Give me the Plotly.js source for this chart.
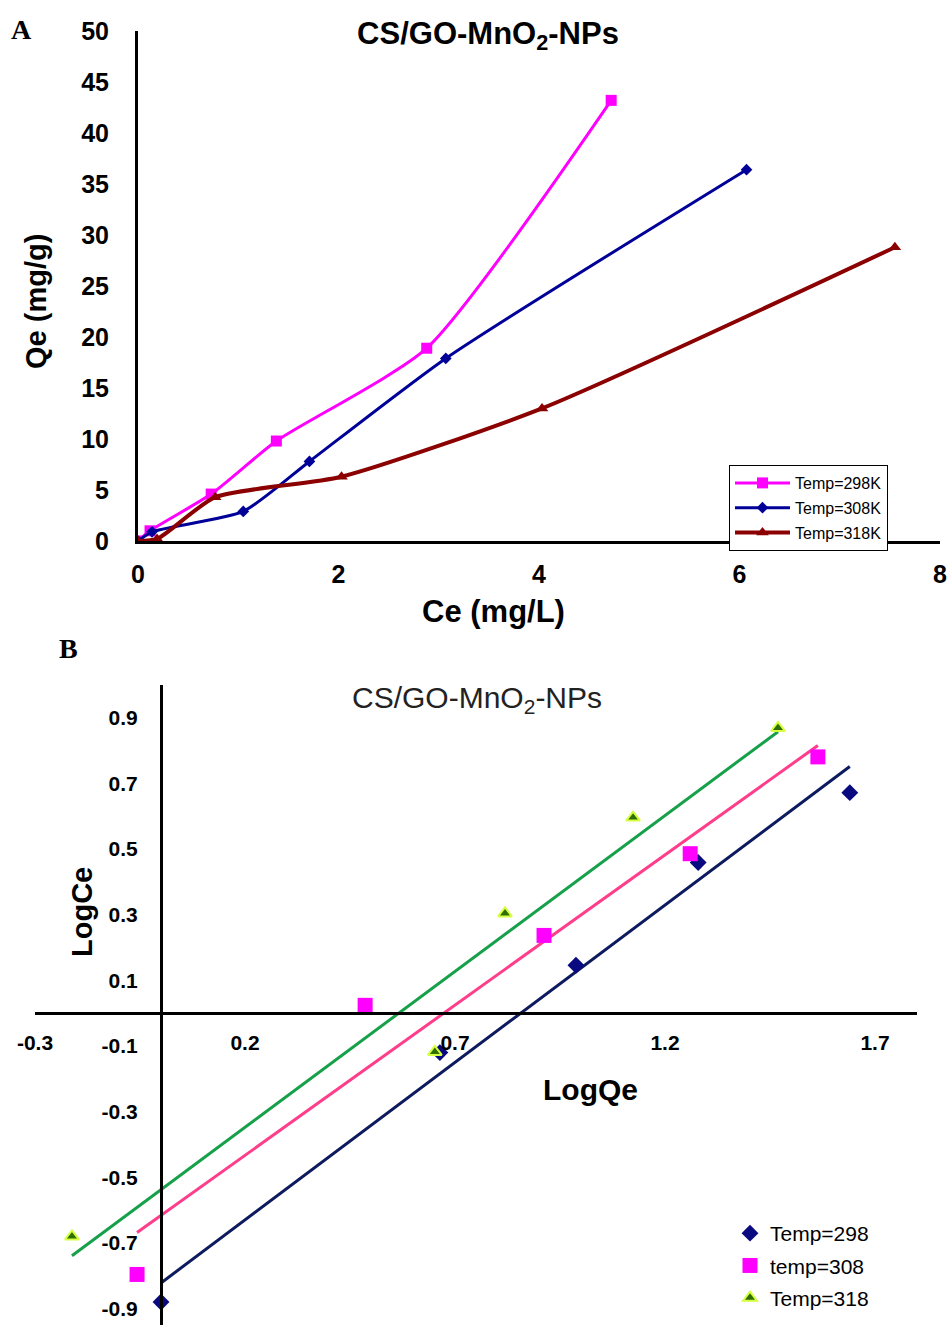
<!DOCTYPE html>
<html>
<head>
<meta charset="utf-8">
<script src="https://cdn.plot.ly/plotly-3.0.1.min.js"></script>
<style>
  html, body { margin: 0; padding: 0; background: #fff; }
  #chart { width: 948px; height: 1340px; }
</style>
</head>
<body>
<div id="chart"></div>
<script>
// ---- Panel A: adsorption isotherms, Qe vs Ce ----
const ceA298 = [0, 0.12, 0.73, 1.38, 2.88, 4.72];
const qeA298 = [0, 1.0, 4.6, 9.8, 18.9, 43.2];
const ceA308 = [0, 0.14, 1.05, 1.71, 3.07, 6.07];
const qeA308 = [0, 0.9, 2.9, 7.8, 17.9, 36.4];
const ceA318 = [0, 0.19, 0.77, 2.03, 4.03, 7.55];
const qeA318 = [0, 0.2, 4.3, 6.3, 13.0, 28.8];
const namesA = ['Temp=298K', 'Temp=308K', 'Temp=318K'];

// ---- Panel B: linearised plot, LogCe vs LogQe ----
const logQe298 = [0, 0.664, 0.988, 1.279, 1.64];
const logCe298 = [-0.88, -0.12, 0.146, 0.459, 0.672];
const logQe308 = [-0.057, 0.486, 0.912, 1.26, 1.564];
const logCe308 = [-0.796, 0.024, 0.237, 0.486, 0.781];
const logQe318 = [-0.212, 0.652, 0.819, 1.124, 1.469];
const logCe318 = [-0.68, -0.118, 0.304, 0.596, 0.869];
const namesB = ['Temp=298', 'temp=308', 'Temp=318'];

// tick labels of panel B (plain hyphen as minus sign)
const xTickValsB = [-0.3, 0.2, 0.7, 1.2, 1.7];
const xTickTextB = ['-0.3', '0.2', '0.7', '1.2', '1.7'];
const yTickValsB = [-0.9, -0.7, -0.5, -0.3, -0.1, 0.1, 0.3, 0.5, 0.7, 0.9];
const yTickTextB = ['-0.9', '-0.7', '-0.5', '-0.3', '-0.1', '0.1', '0.3', '0.5', '0.7', '0.9'];

const W = 948, H = 1340;
const px = x => x / W;
const py = y => 1 - y / H;

const SANS = 'Liberation Sans, Arial, Helvetica, sans-serif';
const SERIF = 'Liberation Serif, Times New Roman, serif';

// least-squares fit, drawn across the data's x extent
function fitLine(xs, ys) {
  const n = xs.length;
  const mx = xs.reduce((a, b) => a + b, 0) / n;
  const my = ys.reduce((a, b) => a + b, 0) / n;
  let sxx = 0, sxy = 0;
  for (let i = 0; i < n; i++) {
    sxx += (xs[i] - mx) * (xs[i] - mx);
    sxy += (xs[i] - mx) * (ys[i] - my);
  }
  const m = sxy / sxx, b = my - m * mx;
  const x0 = Math.min(...xs), x1 = Math.max(...xs);
  return { x: [x0, x1], y: [m * x0 + b, m * x1 + b] };
}

// panel geometry
const xdomA = [px(138), px(940)], ydomA = [py(541), py(31)];
const xrA = [0, 8], yrA = [0, 50];
const xdomB = [px(35), px(917)], ydomB = [py(1325), py(685)];
const xrB = [-0.3, 1.8], yrB = [-0.95, 1.0];
const yAxisPosB = xdomB[0] + (0 - xrB[0]) / (xrB[1] - xrB[0]) * (xdomB[1] - xdomB[0]);
const xAxisPosB = ydomB[0] + (0 - yrB[0]) / (yrB[1] - yrB[0]) * (ydomB[1] - ydomB[0]);

const colA = ['#ff00ff', '#000099', '#8b0000'];
const traces = [];

const seriesA = [[ceA298, qeA298], [ceA308, qeA308], [ceA318, qeA318]];
const symA = ['square', 'diamond', 'triangle-up'];
const sizeA = [11, 9, 11];
const widthA = [3, 3, 4];
seriesA.forEach((s, i) => {
  traces.push({
    type: 'scatter', mode: 'lines+markers',
    x: s[0], y: s[1], xaxis: 'x', yaxis: 'y',
    name: namesA[i], legend: 'legend', legendgroup: 'a' + i,
    line: { color: colA[i], width: widthA[i], shape: 'spline', smoothing: 0.6 },
    marker: { symbol: symA[i], size: sizeA[i], color: colA[i] }
  });
});

const seriesB = [[logQe298, logCe298], [logQe308, logCe308], [logQe318, logCe318]];
const lineColB = ['#0d1b5e', '#ff3d8b', '#17a04a'];
seriesB.forEach((s, i) => {
  const f = fitLine(s[0], s[1]);
  traces.push({
    type: 'scatter', mode: 'lines', x: f.x, y: f.y,
    xaxis: 'x2', yaxis: 'y2', showlegend: false, hoverinfo: 'skip',
    line: { color: lineColB[i], width: 3 }
  });
});
const markB = [
  { symbol: 'diamond', size: 13, color: '#0a0a80' },
  { symbol: 'square', size: 15, color: '#ff00ff' },
  { symbol: 'triangle-up', size: 12, color: '#2f6e00', line: { color: '#d6ff40', width: 2 } }
];
seriesB.forEach((s, i) => {
  traces.push({
    type: 'scatter', mode: 'markers', x: s[0], y: s[1],
    xaxis: 'x2', yaxis: 'y2', name: namesB[i], legend: 'legend2', legendgroup: 'b' + i,
    marker: markB[i]
  });
});

const axisBase = {
  showgrid: false, zeroline: false, showline: true,
  linecolor: '#000', linewidth: 3, ticks: '',
  color: '#000'
};

const layout = {
  width: W, height: H,
  margin: { l: 0, r: 0, t: 0, b: 0 },
  paper_bgcolor: '#fff', plot_bgcolor: 'rgba(0,0,0,0)',
  font: { family: SANS, color: '#000' },
  title: {
    text: 'CS/GO-MnO<sub>2</sub>-NPs',
    font: { family: SANS, size: 31, weight: 'bold', color: '#000' },
    x: px(488), y: py(33), xref: 'paper', yref: 'paper',
    xanchor: 'center', yanchor: 'middle'
  },
  xaxis: Object.assign({}, axisBase, {
    domain: xdomA, range: xrA, dtick: 2, anchor: 'y',
    tickfont: { family: SANS, size: 25, weight: 'bold' }, ticklabelstandoff: 9
  }),
  yaxis: Object.assign({}, axisBase, {
    domain: ydomA, range: yrA, dtick: 5, anchor: 'x',
    tickfont: { family: SANS, size: 25, weight: 'bold' }, ticklabelstandoff: 21
  }),
  xaxis2: Object.assign({}, axisBase, {
    domain: xdomB, range: xrB, tickmode: 'array', tickvals: xTickValsB, ticktext: xTickTextB,
    anchor: 'free', position: xAxisPosB, side: 'bottom',
    tickfont: { family: SANS, size: 21, weight: 'bold' }, ticklabelstandoff: 10
  }),
  yaxis2: Object.assign({}, axisBase, {
    domain: ydomB, range: yrB, tickmode: 'array', tickvals: yTickValsB, ticktext: yTickTextB,
    anchor: 'free', position: yAxisPosB, side: 'left',
    tickfont: { family: SANS, size: 21, weight: 'bold' }, ticklabelstandoff: 18
  }),
  legend: {
    x: px(729), y: py(465), xanchor: 'left', yanchor: 'top',
    bgcolor: '#fff', bordercolor: '#000', borderwidth: 1,
    font: { family: SANS, size: 16, color: '#000' },
    traceorder: 'grouped', tracegroupgap: 1, itemwidth: 55
  },
  legend2: {
    x: px(730), y: py(1213), xanchor: 'left', yanchor: 'top',
    bgcolor: 'rgba(0,0,0,0)', borderwidth: 0,
    font: { family: SANS, size: 21, color: '#000' },
    traceorder: 'grouped', tracegroupgap: 2, itemwidth: 30
  },
  showlegend: true,
  annotations: [
    { text: '<b>A</b>', x: px(21), y: py(30), xref: 'paper', yref: 'paper', showarrow: false,
      xanchor: 'center', yanchor: 'middle', font: { family: SERIF, size: 28, color: '#000' } },
    { text: '<b>B</b>', x: px(68), y: py(648), xref: 'paper', yref: 'paper', showarrow: false,
      xanchor: 'center', yanchor: 'middle', font: { family: SERIF, size: 28, color: '#000' } },
    { text: 'Qe (mg/g)', x: px(36), y: py(302), xref: 'paper', yref: 'paper', showarrow: false,
      textangle: -90, xanchor: 'center', yanchor: 'middle',
      font: { family: SANS, size: 29, weight: 'bold', color: '#000' } },
    { text: 'Ce (mg/L)', x: px(493), y: py(612), xref: 'paper', yref: 'paper', showarrow: false,
      xanchor: 'center', yanchor: 'middle',
      font: { family: SANS, size: 31, weight: 'bold', color: '#000' } },
    { text: 'CS/GO-MnO<sub>2</sub>-NPs', x: px(477), y: py(699), xref: 'paper', yref: 'paper',
      showarrow: false, xanchor: 'center', yanchor: 'middle',
      font: { family: SANS, size: 30, color: '#222' } },
    { text: 'LogCe', x: px(82), y: py(912), xref: 'paper', yref: 'paper', showarrow: false,
      textangle: -90, xanchor: 'center', yanchor: 'middle',
      font: { family: SANS, size: 29, weight: 'bold', color: '#000' } },
    { text: 'LogQe', x: px(590), y: py(1089), xref: 'paper', yref: 'paper', showarrow: false,
      xanchor: 'center', yanchor: 'middle',
      font: { family: SANS, size: 30, weight: 'bold', color: '#000' } }
  ]
};

Plotly.newPlot('chart', traces, layout, { displayModeBar: false, staticPlot: true });
</script>
</body>
</html>
